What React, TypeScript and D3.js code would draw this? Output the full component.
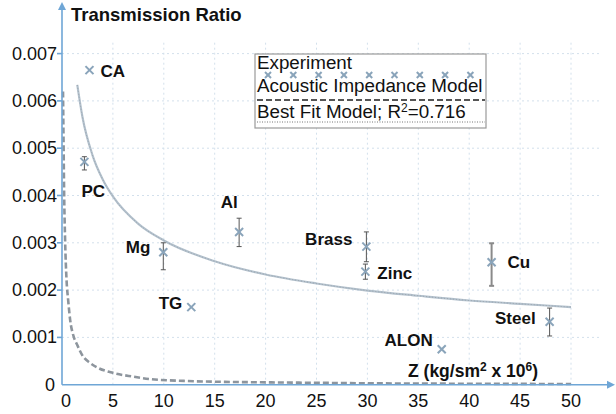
import * as d3 from 'd3';

// experiment: acoustic impedance Z (kg/sm² x 10⁶) vs measured transmission ratio
const materials = ['CA', 'PC', 'Mg', 'TG', 'Al', 'Brass', 'Zinc', 'Cu', 'Steel', 'ALON'];
const impedance = [2.7, 2.2, 9.95, 12.7, 17.4, 29.9, 29.8, 42.2, 47.9, 37.3];
const ratio = [0.00665, 0.00471, 0.0028, 0.00164, 0.00323, 0.00292, 0.00239, 0.00259, 0.00133, 0.00075];
const errLow = [null, 0.00454, 0.00243, null, 0.00292, 0.0026, 0.00223, 0.00209, 0.00103, null];
const errHigh = [null, 0.00482, 0.003, null, 0.00352, 0.00323, 0.00255, 0.00299, 0.00162, null];

// acoustic impedance model curve
const modelZ = [0.1, 0.15, 0.2, 0.3, 0.45, 0.6, 0.8, 1.1, 1.5, 2, 2.75, 3.5, 5, 7, 8.6, 12, 16, 20, 25, 30, 40, 50];
const modelT = [0.0062, 0.0052, 0.0042, 0.0031, 0.0022, 0.0018, 0.00137, 0.00105, 0.00084, 0.00062, 0.00046, 0.00036, 0.00025, 0.00017, 0.00012, 0.00008, 0.00006, 0.00005, 0.00004, 0.00003, 0.00002, 0.000015];

// best fit model curve
const fitZ = [1.5, 2, 3, 4, 5, 7.5, 10, 15, 20, 25, 30, 35, 40, 45, 50];
const fitT = [0.00634, 0.00567, 0.00485, 0.00434, 0.00398, 0.0034, 0.00305, 0.00261, 0.00233, 0.00214, 0.00199, 0.00188, 0.00178, 0.00171, 0.00164];

const xTicks = [0, 5, 10, 15, 20, 25, 30, 35, 40, 45, 50];
const yTicks = [0, 0.001, 0.002, 0.003, 0.004, 0.005, 0.006, 0.007];

const W = 616;
const H = 414;
const FONT = '"Liberation Sans", Arial, sans-serif';
const AXIS = '#6fa6d6';
const GRID = '#d3e0ec';
const MARK = '#8aa4ba';

// label placement next to each marker
const labelPos: Record<string, [number, number, string]> = {
  CA: [11, 7, 'start'],
  PC: [-3, 35, 'start'],
  Mg: [-13, 1, 'end'],
  TG: [-9, 2, 'end'],
  Al: [-10, -24, 'middle'],
  Brass: [-14, -2, 'end'],
  Zinc: [12, 7, 'start'],
  Cu: [16, 6, 'start'],
  Steel: [-14, 2, 'end'],
  ALON: [-9, -3, 'end'],
};

function Cross({ cx, cy, r = 4 }: { cx: number; cy: number; r?: number }) {
  return (
    <g stroke={MARK} strokeWidth={2}>
      <line x1={cx - r} y1={cy - r} x2={cx + r} y2={cy + r} />
      <line x1={cx - r} y1={cy + r} x2={cx + r} y2={cy - r} />
    </g>
  );
}

export default function App() {
  const x = d3.scaleLinear().domain([0, 50]).range([62, 571]);
  const y = d3.scaleLinear().domain([0, 0.007]).range([384.7, 53.6]);

  const model = modelZ.map((z, i) => [z, modelT[i]] as [number, number]);
  const fit = fitZ.map((z, i) => [z, fitT[i]] as [number, number]);

  const line = d3
    .line<[number, number]>()
    .x((d) => x(d[0]))
    .y((d) => y(d[1]))
    .curve(d3.curveMonotoneX);

  const x0 = x(0);
  const y0 = y(0);

  // legend
  const lg = { x: 255, y: 54, w: 231, h: 74 };
  const legendMarks = d3.range(9).map((i) => 268 + i * 25.3);

  return (
    <svg
      width={W}
      height={H}
      style={{ position: 'absolute', left: 0, top: 0, background: '#fff' }}
      fontFamily={FONT}
    >
      {/* grid */}
      <g stroke={GRID} strokeWidth={1} strokeDasharray="2,3">
        {yTicks.slice(1).map((t) => (
          <line key={t} x1={x0} x2={600} y1={y(t)} y2={y(t)} />
        ))}
        {xTicks.slice(1).map((t) => (
          <line key={t} x1={x(t)} x2={x(t)} y1={y0} y2={40} />
        ))}
      </g>

      {/* acoustic impedance model */}
      <path d={line(model) || ''} fill="none" stroke="#8d959d" strokeWidth={2.6} strokeDasharray="6,3" />

      {/* best fit model */}
      <path d={line(fit) || ''} fill="none" stroke="#b3c1cd" strokeWidth={2.2} />
      <path d={line(fit) || ''} fill="none" stroke="#666" strokeOpacity={0.3} strokeWidth={1} strokeDasharray="1,2" />

      {/* axes */}
      <g stroke={AXIS} strokeWidth={1.6}>
        <line x1={x0} x2={x0} y1={y0} y2={8} />
        <line x1={x0} x2={610} y1={y0} y2={y0} />
        {yTicks.slice(1).map((t) => (
          <line key={t} x1={x0 - 5} x2={x0} y1={y(t)} y2={y(t)} />
        ))}
      </g>
      <path d={`M${x0},2 L${x0 - 4},10 L${x0 + 4},10 Z`} fill={AXIS} />
      <path d={`M615,${y0} L607,${y0 - 4} L607,${y0 + 4} Z`} fill={AXIS} />

      {/* tick labels */}
      <g fontSize={18} fill="#111">
        {yTicks.map((t) => (
          <text key={t} x={t === 0 ? 55 : 57} y={y(t) + 6} textAnchor="end">
            {t === 0 ? '0' : d3.format('.3f')(t)}
          </text>
        ))}
        {xTicks.map((t) => (
          <text key={t} x={x(t) + (t === 0 ? 4 : 0)} y={407} textAnchor="middle">
            {t}
          </text>
        ))}
      </g>

      {/* axis titles */}
      <text x={71} y={21} fontSize={18.5} fontWeight="bold" fill="#111">
        Transmission Ratio
      </text>
      <text x={408} y={377} fontSize={17.5} fontWeight="bold" fill="#111">
        Z (kg/sm
        <tspan dy={-6} fontSize={12}>2</tspan>
        <tspan dy={6}> x 10</tspan>
        <tspan dy={-6} fontSize={12}>6</tspan>
        <tspan dy={6}>)</tspan>
      </text>

      {/* error bars */}
      {materials.map((m, i) => {
        const lo = errLow[i];
        const hi = errHigh[i];
        if (lo == null || hi == null) return null;
        const cx = x(impedance[i]);
        const thick = m === 'Cu';
        return (
          <g key={m} stroke={thick ? '#8a8a8a' : '#555'} strokeWidth={thick ? 2 : 1}>
            <line x1={cx} x2={cx} y1={y(lo)} y2={y(hi)} />
            <line x1={cx - 2.5} x2={cx + 2.5} y1={y(lo)} y2={y(lo)} />
            <line x1={cx - 2.5} x2={cx + 2.5} y1={y(hi)} y2={y(hi)} />
          </g>
        );
      })}

      {/* experiment markers */}
      {materials.map((m, i) => (
        <Cross key={m} cx={x(impedance[i])} cy={y(ratio[i])} />
      ))}

      {/* point labels */}
      <g fontSize={17} fontWeight="bold" fill="#111">
        {materials.map((m, i) => {
          const [dx, dy, anchor] = labelPos[m];
          return (
            <text key={m} x={x(impedance[i]) + dx} y={y(ratio[i]) + dy} textAnchor={anchor as any}>
              {m}
            </text>
          );
        })}
      </g>

      {/* legend */}
      <rect x={lg.x} y={lg.y} width={lg.w} height={lg.h} fill="#fff" stroke="#9a9a9a" strokeWidth={1.2} />
      <g fontSize={18.8} fill="#111">
        <text x={257} y={69}>Experiment</text>
        <text x={257} y={92}>Acoustic Impedance Model</text>
        <text x={257} y={118}>
          Best Fit Model; R<tspan dy={-6} fontSize={12}>2</tspan>
          <tspan dy={6}>=0.716</tspan>
        </text>
      </g>
      {legendMarks.map((lx) => (
        <Cross key={lx} cx={lx} cy={75} r={3} />
      ))}
      <line x1={257} x2={485} y1={100} y2={100} stroke="#555" strokeWidth={2} strokeDasharray="6,3" />
      <line x1={257} x2={485} y1={122} y2={122} stroke="#777" strokeWidth={1} strokeDasharray="1,1.5" />
    </svg>
  );
}
